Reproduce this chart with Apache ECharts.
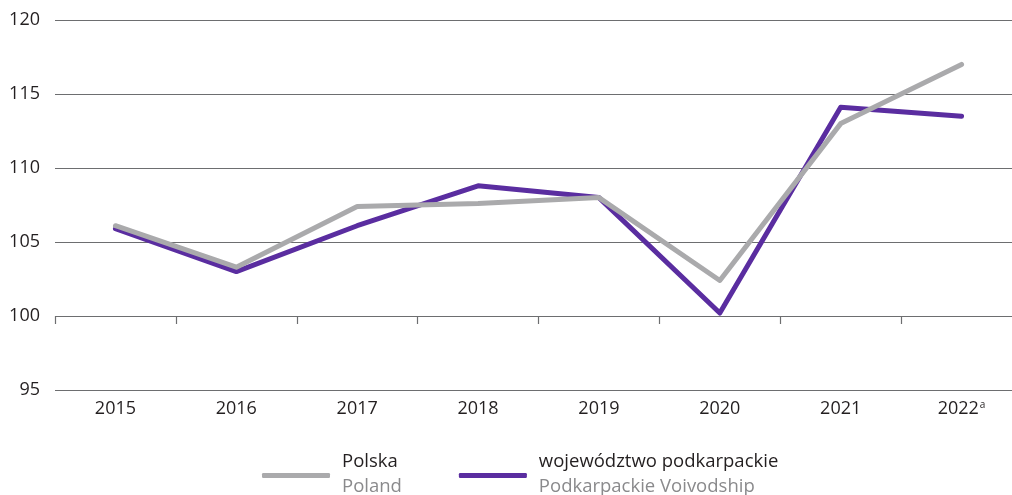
<!DOCTYPE html>
<html>
<head>
<meta charset="utf-8">
<script src="https://cdn.jsdelivr.net/npm/echarts@6/dist/echarts.min.js"></script>
<style>
  html, body { margin: 0; padding: 0; background: #fff; }
  #chart { width: 1012px; height: 495px; }
</style>
</head>
<body>
<div id="chart"></div>
<script>
// Years on the category axis; 2022 carries footnote marker "a"
const years = ['2015', '2016', '2017', '2018', '2019', '2020', '2021', '2022'];
const yearNotes = { '2022': 'a' };

// Index values (previous year = 100)
const polska = [106.1, 103.3, 107.4, 107.6, 108.0, 102.4, 113.0, 117.0];
const podkarpackie = [105.9, 103.0, 106.1, 108.8, 108.0, 100.2, 114.1, 113.5];

// Legend names: Polish label with English translation beneath
const seriesNames = ['Polska', 'województwo podkarpackie'];
const seriesNamesEn = ['Poland', 'Podkarpackie Voivodship'];

const FONT = '"Open Sans", sans-serif';
const GRAY = '#aaaaac';
const PURPLE = '#5a2da0';

const chart = echarts.init(document.getElementById('chart'));

chart.setOption({
  animation: false,
  grid: { left: 55, top: 20, right: -10, height: 370, outerBoundsMode: 'none', containLabel: false },
  legend: {
    left: 257,
    top: 447,
    itemWidth: 68,
    itemHeight: 5,
    itemGap: 57,
    icon: 'roundRect',
    selectedMode: false,
    data: seriesNames,
    formatter: function (name) {
      const i = seriesNames.indexOf(name);
      return '{pl|' + name + '}\n{en|' + seriesNamesEn[i] + '}';
    },
    textStyle: {
      padding: [0, 0, 0, 7],
      rich: {
        pl: { fontFamily: FONT, fontSize: 18.5, color: '#231f20', lineHeight: 22 },
        en: { fontFamily: FONT, fontSize: 18.5, color: '#8a8a8c', lineHeight: 28 }
      }
    }
  },
  xAxis: [
    {
      type: 'category',
      data: years,
      boundaryGap: true,
      axisLine: { show: false },
      axisTick: { show: false },
      axisLabel: {
        interval: 0,
        margin: 10,
        fontFamily: FONT,
        fontSize: 18,
        color: '#231f20',
        formatter: function (v) {
          return yearNotes[v] ? v + '{sup|' + yearNotes[v] + '}' : v;
        },
        rich: {
          sup: { fontFamily: FONT, fontSize: 10, color: '#231f20', verticalAlign: 'top', padding: [0, 0, 8, 1] }
        }
      }
    },
    {
      // tick marks hanging below the 100 line
      type: 'category',
      data: years,
      position: 'bottom',
      offset: -74,
      boundaryGap: true,
      axisLine: { show: false },
      axisTick: { show: true, interval: 0, length: 8, lineStyle: { color: '#6d6e70', width: 1.2 } },
      axisLabel: { show: false }
    }
  ],
  yAxis: {
    type: 'value',
    min: 95,
    max: 120,
    interval: 5,
    axisLine: { show: false },
    axisTick: { show: false },
    axisLabel: { margin: 15, fontFamily: FONT, fontSize: 18, color: '#231f20' },
    splitLine: { lineStyle: { color: '#6d6e70', width: 1.2 } }
  },
  series: [
    {
      name: seriesNames[0],
      type: 'line',
      data: polska,
      symbol: 'none',
      lineStyle: { color: GRAY, width: 5, cap: 'round', join: 'round' },
      itemStyle: { color: GRAY },
      z: 3
    },
    {
      name: seriesNames[1],
      type: 'line',
      data: podkarpackie,
      symbol: 'none',
      lineStyle: { color: PURPLE, width: 5, cap: 'round', join: 'round' },
      itemStyle: { color: PURPLE },
      z: 2
    }
  ]
});
</script>
</body>
</html>
